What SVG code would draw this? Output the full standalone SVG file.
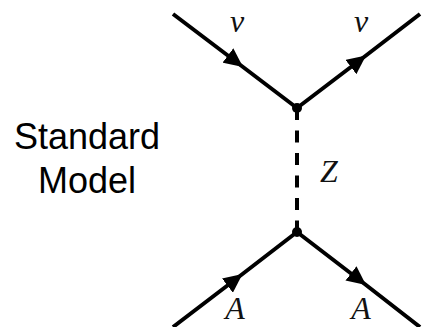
<svg xmlns="http://www.w3.org/2000/svg" width="423" height="327" viewBox="0 0 423 327">
<style>
.fermion{fill:none;stroke:#000;stroke-width:4;marker-mid:url(#arr)}
.boson{fill:none;stroke:#000;stroke-width:4;stroke-dasharray:12 10.5}
.lbl{font-family:"Liberation Serif",serif;font-style:italic;font-size:32px;fill:#111;text-anchor:middle}
.title{font-family:"Liberation Sans",Arial,sans-serif;font-size:36px;fill:#000;text-anchor:middle}
</style>
<defs>
<marker id="arr" markerUnits="userSpaceOnUse" viewBox="-19 -9 19 18" refX="0" refY="0" markerWidth="19" markerHeight="18" orient="auto">
<path d="M0,0 L-19,-9 L-19,9 Z" fill="#000"/>
</marker>
</defs>
<g id="connectors">
<path class="fermion" d="M173,14 L243,67 L297,108"/>
<path class="fermion" d="M297,108 L366,55.5 L420,14"/>
<path class="boson" d="M297,108 L297,232"/>
<path class="fermion" d="M173,327 L242.5,274 L297,232"/>
<path class="fermion" d="M297,232 L366,285 L420,327"/>
</g>
<g id="vertex-top"><circle cx="297" cy="108" r="5" fill="#000"/></g>
<g id="vertex-bottom"><circle cx="297" cy="232" r="5" fill="#000"/></g>
<g id="label-nu-in"><text class="lbl" x="237" y="32">ν</text></g>
<g id="label-nu-out"><text class="lbl" x="361" y="32">ν</text></g>
<g id="label-Z"><text class="lbl" x="329" y="182">Z</text></g>
<g id="label-A-in"><text class="lbl" x="235" y="319">A</text></g>
<g id="label-A-out"><text class="lbl" x="361" y="319">A</text></g>
<g id="title"><text class="title" x="87" y="149">Standard</text><text class="title" x="87" y="193">Model</text></g>
</svg>
